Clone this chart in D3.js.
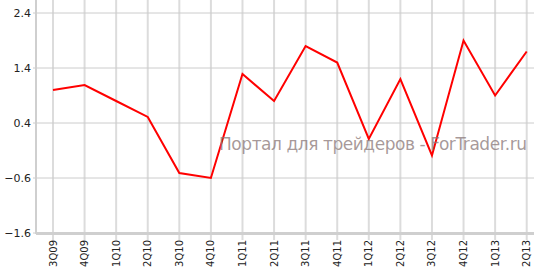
<!DOCTYPE html>
<html>
<head>
<meta charset="utf-8">
<script src="https://cdn.jsdelivr.net/npm/d3@7"></script>
<style>
  body { margin: 0; background: #fff; }
  svg { display: block; font-family: "DejaVu Sans", Verdana, sans-serif; }
</style>
</head>
<body>
<svg width="534" height="267"></svg>
<script>
// quarters on the x axis
var quarters = ["3Q09","4Q09","1Q10","2Q10","3Q10","4Q10","1Q11","2Q11",
                "3Q11","4Q11","1Q12","2Q12","3Q12","4Q12","1Q13","2Q13"];
// values
var values = [1.0, 1.09, 0.8, 0.51, -0.51, -0.6, 1.29, 0.8,
              1.8, 1.5, 0.11, 1.2, -0.19, 1.9, 0.9, 1.7];
var yTicks = [-1.6, -0.6, 0.4, 1.4, 2.4];

var svg = d3.select("svg"),
    width = +svg.attr("width"),
    height = +svg.attr("height");

var plotLeft = 36, plotTop = 13, plotBottom = 233;

var x = d3.scalePoint()
    .domain(quarters)
    .range([53, 526.7]);

var y = d3.scaleLinear()
    .domain([-1.6, 2.4])
    .range([plotBottom, plotTop]);

// vertical grid
svg.append("g")
    .selectAll("line")
    .data(quarters).enter()
    .append("line")
    .attr("x1", function(d) { return x(d); })
    .attr("x2", function(d) { return x(d); })
    .attr("y1", 0)
    .attr("y2", plotBottom + 7)
    .attr("stroke", "#dcdcdc")
    .attr("stroke-width", 2);

// horizontal grid
svg.append("g")
    .selectAll("line")
    .data(yTicks).enter()
    .append("line")
    .attr("x1", plotLeft - 3)
    .attr("x2", width)
    .attr("y1", function(d) { return y(d); })
    .attr("y2", function(d) { return y(d); })
    .attr("stroke", "#cccccc")
    .attr("stroke-width", 1);

// axis lines
svg.append("line")
    .attr("x1", plotLeft).attr("x2", plotLeft)
    .attr("y1", 0).attr("y2", plotBottom + 1)
    .attr("stroke", "#cfcfcf").attr("stroke-width", 2);
svg.append("line")
    .attr("x1", plotLeft).attr("x2", width)
    .attr("y1", plotBottom + 0.5).attr("y2", plotBottom + 0.5)
    .attr("stroke", "#cfcfcf").attr("stroke-width", 3);

// y labels
svg.append("g")
    .selectAll("text")
    .data(yTicks).enter()
    .append("text")
    .attr("x", 31)
    .attr("y", function(d) { return y(d) + 4; })
    .attr("text-anchor", "end")
    .attr("font-size", 11)
    .attr("fill", "#222")
    .text(function(d) { return d3.format(".1f")(d); });

// x labels (rotated)
svg.append("g")
    .selectAll("text")
    .data(quarters).enter()
    .append("text")
    .attr("transform", function(d) { return "translate(" + (x(d) + 3.5) + "," + 240 + ") rotate(-90)"; })
    .attr("text-anchor", "end")
    .attr("font-size", 10)
    .attr("fill", "#222")
    .text(function(d) { return d; });

// the line
var line = d3.line()
    .x(function(d, i) { return x(quarters[i]); })
    .y(function(d) { return y(d); });

svg.append("path")
    .datum(values)
    .attr("d", line)
    .attr("fill", "none")
    .attr("stroke", "#ff0000")
    .attr("stroke-width", 2)
    .attr("stroke-linejoin", "miter");

// watermark
svg.append("text")
    .attr("x", 219)
    .attr("y", 150)
    .attr("font-size", 17)
    .attr("font-family", "'DejaVu Sans', sans-serif")
    .attr("fill", "#8a7878")
    .attr("fill-opacity", 0.75)
    .attr("textLength", 308)
    .text("Портал для трейдеров - ForTrader.ru");
</script>
</body>
</html>
